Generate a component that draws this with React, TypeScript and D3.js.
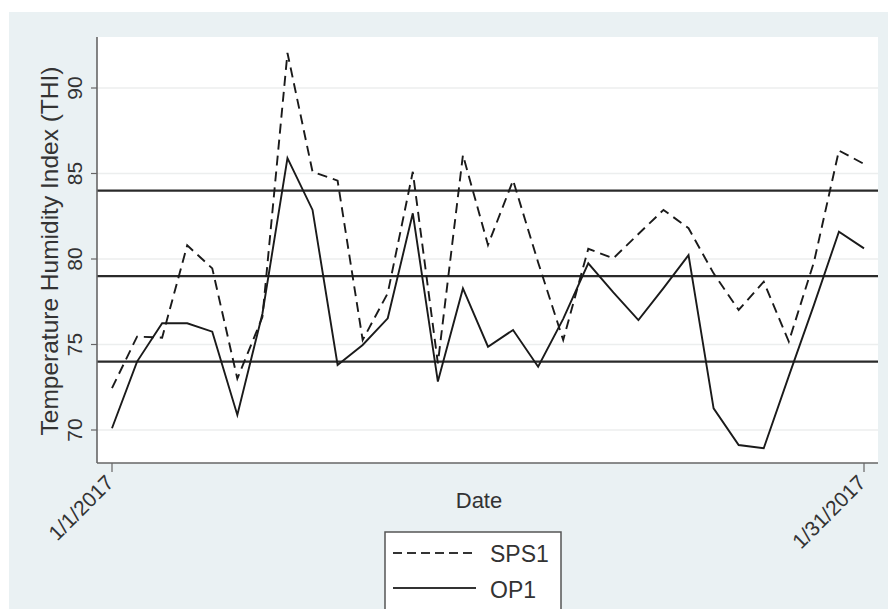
import React from "react";
import * as d3 from "d3";

const days = [1, 2, 3, 4, 5, 6, 7, 8, 9, 10, 11, 12, 13, 14, 15, 16, 17, 18, 19, 20, 21, 22, 23, 24, 25, 26, 27, 28, 29, 30, 31];
const sps1 = [72.45, 75.46, 75.4, 80.8, 79.45, 73.0, 76.6, 92.05, 85.1, 84.58, 75.26, 78.0, 85.1, 73.9, 86.08, 80.82, 84.6, 79.8, 75.26, 80.6, 80.04, 81.46, 82.87, 81.8, 79.16, 77.02, 78.67, 75.17, 79.8, 86.34, 85.56];
const op1 = [70.1, 74.0, 76.24, 76.24, 75.75, 70.88, 76.8, 85.9, 82.87, 73.8, 74.97, 76.53, 82.67, 72.83, 78.28, 74.87, 75.85, 73.7, 76.5, 79.75, 78.05, 76.43, 78.3, 80.23, 71.27, 69.12, 68.93, 73.15, 77.3, 81.6, 80.62];
const yTicks = [70, 75, 80, 85, 90];
const refLines = [74, 79, 84];
const xTickDays = [1, 31];
const xTickLabels = ["1/1/2017", "1/31/2017"];
const seriesNames = ["SPS1", "OP1"];

const FONT = "'Liberation Sans', Arial, sans-serif";

export default function App() {
  const W = 889, H = 609;
  const plot = { left: 97, right: 878, top: 37, bottom: 463 };
  const x = d3.scaleLinear().domain([1, 31]).range([112, 864]);
  const y = d3.scaleLinear().domain([70, 90]).range([430, 88]);
  const line = d3
    .line<number>()
    .x((_, i) => x(days[i]))
    .y((d) => y(d));

  return (
    <svg
      width={W}
      height={H}
      style={{ position: "absolute", left: 0, top: 0, display: "block" }}
      fontFamily={FONT}
    >
      <rect x={0} y={0} width={W} height={H} fill="#ffffff" />
      <rect x={9} y={12} width={879} height={H - 12} fill="#eaf1f3" />
      <rect
        x={plot.left}
        y={plot.top}
        width={plot.right - plot.left}
        height={plot.bottom - plot.top}
        fill="#ffffff"
      />
      {yTicks.map((t) => (
        <line
          key={"g" + t}
          x1={plot.left}
          x2={plot.right}
          y1={y(t)}
          y2={y(t)}
          stroke="#eceeee"
          strokeWidth={1.5}
        />
      ))}
      {refLines.map((r) => (
        <line
          key={"r" + r}
          x1={plot.left}
          x2={plot.right}
          y1={y(r)}
          y2={y(r)}
          stroke="#2a2a2a"
          strokeWidth={2.2}
        />
      ))}
      <path d={line(sps1) || ""} fill="none" stroke="#1a1a1a" strokeWidth={1.9} strokeDasharray="10,6" />
      <path d={line(op1) || ""} fill="none" stroke="#1a1a1a" strokeWidth={1.9} />
      <line x1={plot.left} x2={plot.left} y1={plot.top} y2={plot.bottom} stroke="#666" strokeWidth={1.6} />
      <line x1={plot.left} x2={plot.right} y1={plot.bottom} y2={plot.bottom} stroke="#666" strokeWidth={1.6} />
      {yTicks.map((t) => (
        <g key={"yt" + t}>
          <line x1={plot.left - 6} x2={plot.left} y1={y(t)} y2={y(t)} stroke="#666" strokeWidth={1.2} />
          <text
            transform={`translate(${82},${y(t)}) rotate(-90)`}
            textAnchor="middle"
            fontSize={21}
            fill="#333"
          >
            {t}
          </text>
        </g>
      ))}
      {xTickDays.map((d, i) => (
        <g key={"xt" + d}>
          <line x1={x(d)} x2={x(d)} y1={plot.bottom} y2={plot.bottom + 9} stroke="#666" strokeWidth={1.2} />
          <text
            transform={`translate(${x(d) + 3},${plot.bottom + 21}) rotate(-45)`}
            textAnchor="end"
            fontSize={21}
            fill="#333"
          >
            {xTickLabels[i]}
          </text>
        </g>
      ))}
      <text
        transform={`translate(58,${(plot.top + plot.bottom) / 2 + 1}) rotate(-90)`}
        textAnchor="middle"
        fontSize={24.5}
        fill="#333"
      >
        Temperature Humidity Index (THI)
      </text>
      <text x={479} y={508} textAnchor="middle" fontSize={22} fill="#333">
        Date
      </text>
      <rect x={385} y={532} width={176} height={100} fill="#ffffff" stroke="#555" strokeWidth={1.5} />
      <line x1={393} x2={476} y1={553} y2={553} stroke="#333" strokeWidth={2} strokeDasharray="9,5" />
      <line x1={393} x2={476} y1={588} y2={588} stroke="#333" strokeWidth={2} />
      <text x={490} y={562} fontSize={23} fill="#333">
        {seriesNames[0]}
      </text>
      <text x={490} y={598} fontSize={23} fill="#333">
        {seriesNames[1]}
      </text>
    </svg>
  );
}
